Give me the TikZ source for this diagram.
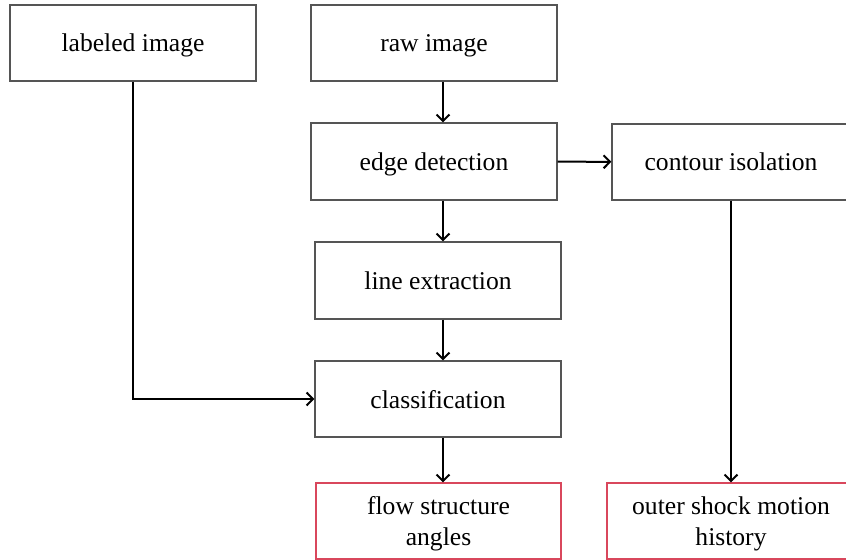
\documentclass[tikz,border=0pt]{standalone}
\usepackage{fontspec}
\setmainfont{Liberation Serif}
\usepackage{xcolor}
\usetikzlibrary{arrows.meta,positioning,calc}
\definecolor{boxgray}{HTML}{555555}
\definecolor{resultred}{HTML}{D9475C}

\begin{document}
\begin{tikzpicture}[
 x=0.5pt,y=-0.5pt,
 stage/.style={draw=boxgray,line width=0.6pt,align=center,font=\fontsize{12.8}{15.5}\selectfont,inner sep=0pt,text depth=0pt,minimum width=123pt,minimum height=38pt},
 result/.style={stage,draw=resultred},
 link/.style={draw=black,line width=1pt,-{Straight Barb[length=3.2pt,width=6.5pt,line width=1pt]}}
]
\clip (0,0) rectangle (846,560);
\useasboundingbox (0,0) rectangle (846,560);
\coordinate (spine) at (443,0);
\coordinate (side) at (731,0);
% input stages
\node[stage] (labeled) at (133,43) {labeled image};
\node[stage] (raw) at (434,43) {raw image};
\node[stage,minimum height=38.5pt] (edge) at (434,161.5) {edge detection};
\node[stage,minimum width=119pt] (contour) at (731,162) {contour isolation};
\node[stage,minimum height=38.5pt] (line) at (438,280.5) {line extraction};
\node[stage] (class) at (438,399) {classification};
% outputs
\node[result,minimum width=122.5pt] (angles) at (438.5,521) {flow structure\\angles};
\node[result,minimum width=124pt] (history) at (731,521) {outer shock motion\\history};
% connectors
\draw[link] (raw.south -| spine) -- (edge.north -| spine);
\draw[link] (edge.south -| spine) -- (line.north -| spine);
\draw[link] (line.south -| spine) -- (class.north -| spine);
\draw[link] (class.south -| spine) -- (angles.north -| spine);
\draw[link] (edge) -- (contour);
\draw[link] (contour.south -| side) -- (history.north -| side);
\draw[link] (labeled) |- (class);
\end{tikzpicture}
\end{document}
